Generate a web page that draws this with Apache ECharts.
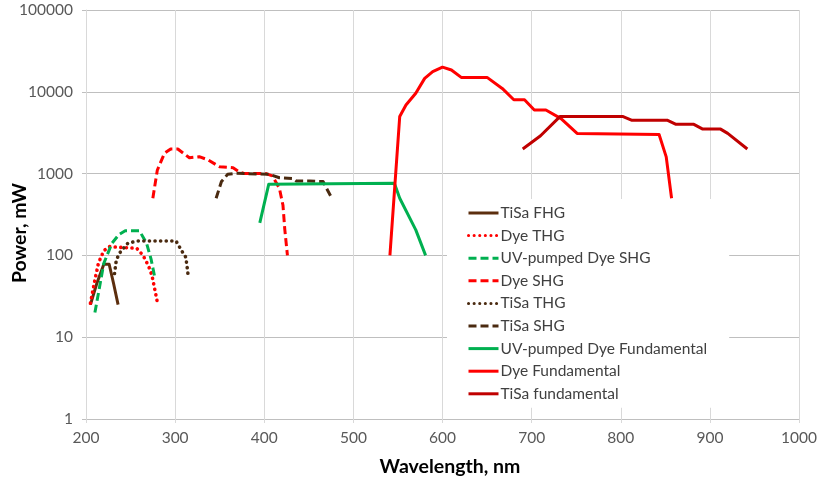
<!DOCTYPE html>
<html>
<head>
<meta charset="utf-8">
<script src="https://cdn.jsdelivr.net/npm/echarts@6/dist/echarts.min.js"></script>
<style>
html,body{margin:0;padding:0;background:#fff;}
#chart{width:820px;height:484px;}
</style>
</head>
<body>
<div id="chart"></div>
<script>
// Wavelength (nm), Power (mW) pairs
const tisaFHG = [[205,25],[212,45],[220,78],[226,78],[231,45],[236,25]];
const dyeTHG = [[205,26],[210,50],[214,81],[220,114],[226,128],[240,125],[257,122],[264,100],[270,75],[274,57],[280,27]];
const uvDyeSHG = [[210,20],[215,40],[220,80],[229,140],[237,180],[244,200],[260,200],[268,140],[273,90],[277,55]];
const dyeSHG = [[275,500],[280,1100],[288,1770],[295,2000],[303,2000],[316,1560],[327,1610],[337,1470],[350,1210],[365,1180],[372,1050],[378,1000],[402,1000],[409,940],[417,660],[421,410],[423,210],[426,100]];
const tisaTHG = [[232,60],[234,88],[238,108],[247,141],[258,150],[301,150],[308,111],[312,95],[314,65],[315,52]];
const tisaSHG = [[346,500],[352,800],[359,980],[368,1010],[406,980],[417,890],[432,870],[436,810],[451,810],[466,800],[469,690],[475,520]];
const uvDyeFund = [[395,250],[405,740],[546,760],[552,500],[570,205],[581,100]];
const dyeFund = [[541,100],[552,5000],[559,6900],[570,9600],[580,14600],[589,17600],[600,20000],[610,18500],[621,15000],[650,15000],[667,11000],[680,8000],[692,8000],[703,6000],[716,6000],[733,4700],[751,3100],[843,3000],[851,1600],[857,500]];
const tisaFund = [[690,2000],[710,2900],[732,5000],[802,5000],[812,4500],[852,4500],[862,4000],[882,4000],[892,3500],[912,3500],[920,3100],[942,2000]];

const seriesNames = ['TiSa FHG','Dye THG','UV-pumped Dye SHG','Dye SHG','TiSa THG','TiSa SHG','UV-pumped Dye Fundamental','Dye Fundamental','TiSa fundamental'];
const seriesData = [tisaFHG, dyeTHG, uvDyeSHG, dyeSHG, tisaTHG, tisaSHG, uvDyeFund, dyeFund, tisaFund];
const seriesColors = ['#5C2E0E','#FF0000','#00B050','#FF0000','#4A2A10','#4A2A10','#00B050','#FF0000','#C00000'];
const seriesDash = ['solid',[0.1,5.5],[8,4],[8,4],[0.1,5.5],[8,4],'solid','solid','solid'];

const xTicks = [200,300,400,500,600,700,800,900,1000];

const FONT = 'Lato';
const chart = echarts.init(document.getElementById('chart'), null, {renderer:'canvas'});

const series = seriesNames.map((name, i) => {
  const dotted = Array.isArray(seriesDash[i]) && seriesDash[i][0] < 1;
  return {
    name: name,
    type: 'line',
    data: seriesData[i],
    showSymbol: false,
    symbol: 'none',
    smooth: false,
    animation: false,
    color: seriesColors[i],
    lineStyle: {
      color: seriesColors[i],
      width: dotted ? 3.6 : 3,
      type: seriesDash[i],
      cap: dotted ? 'round' : 'butt',
      join: 'round'
    }
  };
});

chart.setOption({
  animation: false,
  backgroundColor: '#fff',
  grid: {left: 86, right: 20, top: 10, bottom: 65, containLabel: false},
  xAxis: {
    type: 'value',
    min: xTicks[0],
    max: xTicks[xTicks.length-1],
    interval: 100,
    axisLine: {show: true, lineStyle: {color: '#BFBFBF', width: 1}},
    axisTick: {show: true, length: 4, lineStyle: {color: '#D9D9D9'}},
    axisLabel: {fontFamily: FONT, fontSize: 15.5, color: '#595959', margin: 11, formatter: v => String(v)},
    splitLine: {show: true, lineStyle: {color: '#D9D9D9', width: 1}}
  },
  yAxis: {
    type: 'log',
    logBase: 10,
    min: 1,
    max: 100000,
    axisLine: {show: true, lineStyle: {color: '#D9D9D9', width: 1}},
    axisTick: {show: true, length: 4, lineStyle: {color: '#BFBFBF'}},
    axisLabel: {fontFamily: FONT, fontSize: 15.5, color: '#595959', margin: 13, formatter: v => String(Math.round(v))},
    splitLine: {show: true, lineStyle: {color: '#BFBFBF', width: 1}},
    minorTick: {show: false},
    minorSplitLine: {show: false}
  },
  legend: {
    data: seriesNames,
    orient: 'vertical',
    left: 447,
    top: 199,
    padding: [6, 22, 6, 20],
    backgroundColor: '#ffffff',
    itemWidth: 30,
    itemHeight: 14,
    itemGap: 6.6,
    itemStyle: {opacity: 0},
    lineStyle: {width: 3},
    textStyle: {fontFamily: FONT, fontSize: 15.5, lineHeight: 16, color: '#404040', padding: [0,0,0,-3]},
    selectedMode: false
  },
  graphic: [
    {type: 'text', x: 20, y: 233, rotation: Math.PI/2, silent: true,
     style: {text: 'Power, mW', font: 'bold 19.5px ' + FONT, fill: '#000', align: 'center', verticalAlign: 'middle'}},
    {type: 'text', x: 450, y: 467, silent: true,
     style: {text: 'Wavelength, nm', font: 'bold 19.5px ' + FONT, fill: '#000', align: 'center', verticalAlign: 'middle'}}
  ],
  series: series
});
</script>
</body>
</html>
